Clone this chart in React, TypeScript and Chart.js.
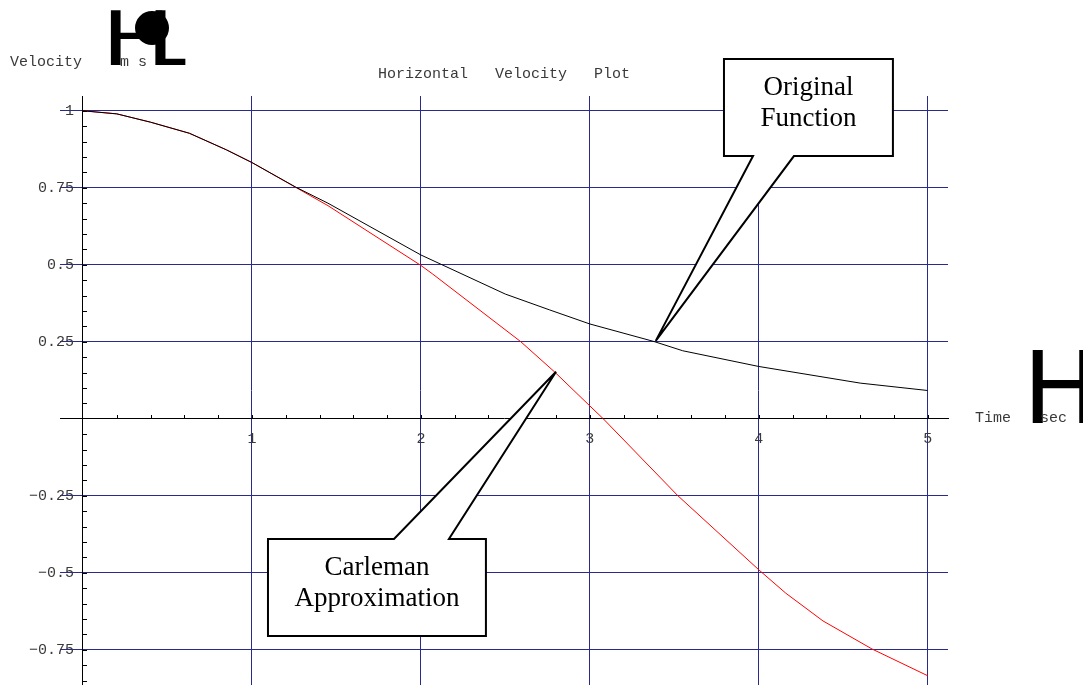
import React, { useEffect, useRef } from "react";
import { Chart, registerables } from "chart.js";

Chart.register(...registerables);

// Sampled curves: time in seconds, horizontal velocity in m/s
const originalTime = [0, 0.2, 0.4, 0.63, 0.85, 1.0, 1.26, 1.45, 2.0, 2.5, 2.76, 3.0, 3.38, 3.55, 4.0, 4.6, 5.0];
const originalVelocity = [1, 0.99, 0.963, 0.927, 0.873, 0.832, 0.752, 0.7, 0.532, 0.405, 0.354, 0.308, 0.251, 0.221, 0.17, 0.116, 0.092];

const carlemanTime = [0, 0.2, 0.4, 0.63, 0.85, 1.0, 1.45, 2.0, 2.07, 2.59, 2.79, 3.0, 3.08, 3.52, 4.0, 4.16, 4.38, 4.67, 5.0];
const carlemanVelocity = [1, 0.99, 0.963, 0.927, 0.873, 0.832, 0.692, 0.498, 0.47, 0.251, 0.153, 0.042, 0, -0.249, -0.49, -0.566, -0.656, -0.747, -0.834];

// Labelled ticks (minor ticks are drawn by the decoration plugin)
const timeTicks = [1, 2, 3, 4, 5];
const velocityTicks = [-0.75, -0.5, -0.25, 0.25, 0.5, 0.75, 1];

const TIME_MIN = -0.136;
const TIME_MAX = 5.12;
const VEL_MIN = -0.864;
const VEL_MAX = 1.048;

const GRID_COLOR = "#2a2a8c";
const TEXT_COLOR = "#3a3a3a";
const MONO = "'Liberation Mono', 'DejaVu Sans Mono', monospace";
const SERIF = "'Liberation Serif', 'DejaVu Serif', serif";

// Speech-bubble callouts, anchored in data units
type Callout = {
  lines: string[];
  tip: [number, number];
  box: [number, number, number, number]; // left, top, right, bottom
  base: [number, number]; // where the pointer leaves the box edge
  side: "top" | "bottom";
};

const callouts: Callout[] = [
  {
    lines: ["Original", "Function"],
    tip: [3.39, 0.253],
    box: [3.794, 1.168, 4.794, 0.853],
    base: [3.966, 4.208],
    side: "bottom",
  },
  {
    lines: ["Carleman", "Approximation"],
    tip: [2.8, 0.153],
    box: [1.095, -0.39, 2.385, -0.705],
    base: [1.841, 2.166],
    side: "top",
  },
];

const fmt = (v: number) => (v < 0 ? "\u2212" + String(-v) : String(v));

function drawStretched(
  ctx: CanvasRenderingContext2D,
  text: string,
  font: string,
  left: number,
  top: number,
  right: number,
  bottom: number
) {
  ctx.save();
  ctx.font = font;
  ctx.textAlign = "left";
  ctx.textBaseline = "alphabetic";
  const m = ctx.measureText(text);
  const w = m.actualBoundingBoxLeft + m.actualBoundingBoxRight;
  const h = m.actualBoundingBoxAscent + m.actualBoundingBoxDescent;
  ctx.translate(left, top);
  ctx.scale((right - left) / w, (bottom - top) / h);
  ctx.fillStyle = "#000";
  ctx.fillText(text, m.actualBoundingBoxLeft, m.actualBoundingBoxAscent);
  ctx.restore();
}

function drawCallout(ctx: CanvasRenderingContext2D, xs: any, ys: any, c: Callout) {
  const L = xs.getPixelForValue(c.box[0]);
  const T = ys.getPixelForValue(c.box[1]);
  const R = xs.getPixelForValue(c.box[2]);
  const B = ys.getPixelForValue(c.box[3]);
  const b1 = xs.getPixelForValue(c.base[0]);
  const b2 = xs.getPixelForValue(c.base[1]);
  const tx = xs.getPixelForValue(c.tip[0]);
  const ty = ys.getPixelForValue(c.tip[1]);

  ctx.save();
  ctx.beginPath();
  if (c.side === "bottom") {
    ctx.moveTo(L, T);
    ctx.lineTo(R, T);
    ctx.lineTo(R, B);
    ctx.lineTo(b2, B);
    ctx.lineTo(tx, ty);
    ctx.lineTo(b1, B);
    ctx.lineTo(L, B);
  } else {
    ctx.moveTo(L, T);
    ctx.lineTo(b1, T);
    ctx.lineTo(tx, ty);
    ctx.lineTo(b2, T);
    ctx.lineTo(R, T);
    ctx.lineTo(R, B);
    ctx.lineTo(L, B);
  }
  ctx.closePath();
  ctx.fillStyle = "#ffffff";
  ctx.fill();
  ctx.lineWidth = 2;
  ctx.lineJoin = "miter";
  ctx.strokeStyle = "#000000";
  ctx.stroke();

  ctx.fillStyle = "#000000";
  ctx.font = `27px ${SERIF}`;
  ctx.textAlign = "center";
  ctx.textBaseline = "alphabetic";
  const cx = (L + R) / 2;
  c.lines.forEach((line, i) => ctx.fillText(line, cx, T + 36 + i * 31));
  ctx.restore();
}

const decorPlugin = {
  id: "plotDecor",
  afterDraw(chart: any) {
    const ctx: CanvasRenderingContext2D = chart.ctx;
    const xs = chart.scales.x;
    const ys = chart.scales.y;
    const x0 = Math.round(xs.getPixelForValue(0));
    const y0 = Math.round(ys.getPixelForValue(0));

    // minor tick marks
    ctx.save();
    ctx.strokeStyle = "#000";
    ctx.lineWidth = 1;
    ctx.beginPath();
    for (let i = 1; i <= 25; i++) {
      const px = Math.round(xs.getPixelForValue(i * 0.2)) + 0.5;
      ctx.moveTo(px, y0);
      ctx.lineTo(px, y0 - 4);
    }
    for (let i = -17; i <= 20; i++) {
      if (i === 0) continue;
      const py = Math.round(ys.getPixelForValue(i * 0.05)) + 0.5;
      ctx.moveTo(x0, py);
      ctx.lineTo(x0 + 4, py);
    }
    ctx.stroke();
    ctx.restore();

    // plot title
    ctx.save();
    ctx.fillStyle = TEXT_COLOR;
    ctx.font = `15px ${MONO}`;
    ctx.textBaseline = "alphabetic";
    ctx.textAlign = "center";
    const area = chart.chartArea;
    ctx.fillText("Horizontal   Velocity   Plot", (area.left + area.right) / 2, 78);
    ctx.restore();

    // vertical axis label brackets
    drawStretched(ctx, "H", `100px 'DejaVu Sans', sans-serif`, 110, 11, 166, 65);
    drawStretched(ctx, "L", `100px 'DejaVu Sans', sans-serif`, 155, 11, 186, 65);
    ctx.save();
    ctx.fillStyle = "#000";
    ctx.beginPath();
    ctx.arc(152, 28, 17, 0, Math.PI * 2);
    ctx.fill();
    ctx.restore();

    // horizontal axis label bracket
    drawStretched(ctx, "H", `100px 'DejaVu Sans', sans-serif`, 1032, 350, 1090, 423);

    ctx.save();
    ctx.fillStyle = TEXT_COLOR;
    ctx.font = `15px ${MONO}`;
    ctx.textAlign = "left";
    ctx.textBaseline = "alphabetic";
    ctx.fillText("Velocity", 10, 66);
    ctx.fillText("m s", 120, 66);
    ctx.fillText("Time", 975, 422);
    ctx.fillText("sec", 1040, 422);
    ctx.restore();

    callouts.forEach((c) => drawCallout(ctx, xs, ys, c));
  },
};

export default function App() {
  const canvasRef = useRef<HTMLCanvasElement | null>(null);

  useEffect(() => {
    const canvas = canvasRef.current;
    if (!canvas) return;

    const chart = new Chart(canvas, {
      type: "line",
      data: {
        datasets: [
          {
            label: "Original Function",
            data: originalTime.map((t, i) => ({ x: t, y: originalVelocity[i] })),
            borderColor: "#000000",
            borderWidth: 1,
            pointRadius: 0,
            tension: 0,
            fill: false,
          },
          {
            label: "Carleman Approximation",
            data: carlemanTime.map((t, i) => ({ x: t, y: carlemanVelocity[i] })),
            borderColor: "#ff0000",
            borderWidth: 1,
            pointRadius: 0,
            tension: 0,
            fill: false,
          },
        ],
      },
      options: {
        animation: false,
        responsive: false,
        devicePixelRatio: 1,
        layout: { padding: { left: 60, right: 135, top: 96, bottom: 0 } },
        plugins: {
          legend: { display: false },
          title: { display: false },
          tooltip: { enabled: false },
        },
        scales: {
          x: {
            type: "linear",
            axis: "x",
            position: { y: 0 },
            min: TIME_MIN,
            max: TIME_MAX,
            afterBuildTicks: (scale: any) => {
              scale.ticks = timeTicks.map((v) => ({ value: v }));
            },
            ticks: {
              autoSkip: false,
              maxRotation: 0,
              padding: 11,
              color: TEXT_COLOR,
              font: { family: MONO, size: 15 },
              callback: (v: any) => fmt(Number(v)),
            },
            grid: { color: GRID_COLOR, lineWidth: 1, drawTicks: false },
            border: { display: true, color: "#000000", width: 1 },
          },
          y: {
            type: "linear",
            axis: "y",
            position: { x: 0 },
            min: VEL_MIN,
            max: VEL_MAX,
            afterBuildTicks: (scale: any) => {
              scale.ticks = velocityTicks.map((v) => ({ value: v }));
            },
            ticks: {
              autoSkip: false,
              padding: 0,
              color: TEXT_COLOR,
              font: { family: MONO, size: 15, lineHeight: 0 },
              // trailing space keeps labels clear of the axis line
              callback: (v: any) => fmt(Number(v)) + " ",
            },
            grid: { color: GRID_COLOR, lineWidth: 1, drawTicks: false },
            border: { display: true, color: "#000000", width: 1 },
          },
        },
      } as any,
      plugins: [decorPlugin],
    });

    return () => chart.destroy();
  }, []);

  return (
    <div style={{ position: "fixed", left: 0, top: 0, width: 1083, height: 685, background: "#ffffff" }}>
      <canvas ref={canvasRef} width={1083} height={685} style={{ display: "block", width: 1083, height: 685 }} />
    </div>
  );
}
